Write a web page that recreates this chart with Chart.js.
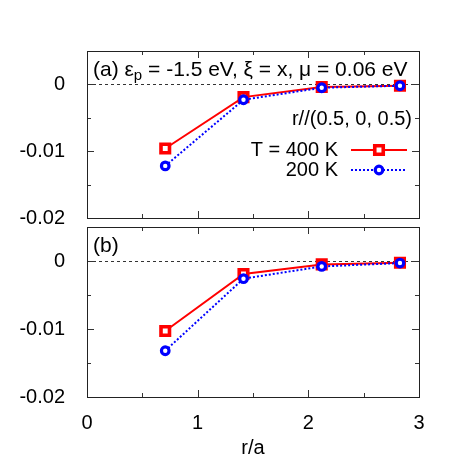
<!DOCTYPE html>
<html>
<head>
<meta charset="utf-8">
<script src="https://cdn.jsdelivr.net/npm/chart.js@4"></script>
<style>
  html, body { margin: 0; padding: 0; background: #fff; }
  #wrap { position: relative; width: 463px; height: 460px; }
  canvas { position: absolute; left: 0; top: 0; }
</style>
</head>
<body>
<div id="wrap">
  <canvas id="panelA" width="463" height="460"></canvas>
  <canvas id="panelB" width="463" height="460"></canvas>
</div>
<script>
// r/a along (0.5, 0, 0.5)
const rOverA = [0.707, 1.414, 2.121, 2.828];

// panel (a)
const a400 = [-0.0096, -0.0019, -0.0004, -0.0002];
const a200 = [-0.0122, -0.0023, -0.0005, -0.0002];

// panel (b)
const b400 = [-0.0103, -0.0019, -0.0005, -0.00025];
const b200 = [-0.0132, -0.0026, -0.0008, -0.0003];

const yTicks = [-0.02, -0.01, 0];
const xTicks = [0, 1, 2, 3];
const legendLabels = ['T = 400 K', '200 K'];

const FONT = '"Liberation Sans", Arial, sans-serif';
const FS = 20;
const RED = '#ff0000';
const BLUE = '#0000ff';

function pts(ys) {
    return rOverA.map((x, i) => ({ x: x, y: ys[i] }));
}

function makeDatasets(hi, lo) {
    return [{
        label: legendLabels[0],
        data: pts(hi),
        borderColor: RED,
        borderWidth: 2,
        pointStyle: 'rect',
        pointRadius: 6,
        pointBorderWidth: 3.6,
        pointBorderColor: RED,
        pointBackgroundColor: '#fff',
        tension: 0
    }, {
        label: legendLabels[1],
        data: pts(lo),
        borderColor: BLUE,
        borderWidth: 2,
        borderDash: [2, 2],
        pointStyle: 'circle',
        pointRadius: 3.8,
        pointBorderWidth: 3.2,
        pointBorderColor: BLUE,
        pointBackgroundColor: '#fff',
        tension: 0
    }].reverse();
}

// frame, inward ticks and the zero line
const framePlugin = {
    id: 'frame',
    beforeDatasetsDraw(chart) {
        const { ctx, chartArea: a, scales: { x, y } } = chart;
        ctx.save();
        // dashed zero line
        ctx.strokeStyle = '#333';
        ctx.lineWidth = 1;
        ctx.setLineDash([3, 3]);
        const y0 = Math.round(y.getPixelForValue(0)) + 0.5;
        ctx.beginPath();
        ctx.moveTo(a.left, y0);
        ctx.lineTo(a.right, y0);
        ctx.stroke();
        ctx.setLineDash([]);

        ctx.strokeStyle = '#333';
        for (let v = -0.02; v <= 0.0051; v += 0.005) {
            const major = Math.abs(v / 0.01 - Math.round(v / 0.01)) < 1e-6;
            const len = major ? 7 : 4;
            const py = Math.round(y.getPixelForValue(v)) + 0.5;
            ctx.beginPath();
            ctx.moveTo(a.left, py); ctx.lineTo(a.left + len, py);
            ctx.moveTo(a.right, py); ctx.lineTo(a.right - len, py);
            ctx.stroke();
        }
        for (let v = 0.5; v < 3; v += 0.5) {
            const major = Math.abs(v - Math.round(v)) < 1e-6;
            const len = major ? 7 : 4;
            const px = Math.round(x.getPixelForValue(v)) + 0.5;
            ctx.beginPath();
            ctx.moveTo(px, a.top); ctx.lineTo(px, a.top + len);
            ctx.moveTo(px, a.bottom); ctx.lineTo(px, a.bottom - len);
            ctx.stroke();
        }
        ctx.restore();
    },
    afterDraw(chart) {
        const { ctx, chartArea: a } = chart;
        ctx.save();
        ctx.strokeStyle = '#222';
        ctx.lineWidth = 1;
        ctx.strokeRect(a.left + 0.5, a.top + 0.5, a.right - a.left, a.bottom - a.top);
        ctx.restore();
    }
};

// panel labels and the legend
const labelPlugin = {
    id: 'labels',
    afterDraw(chart, args, opts) {
        const { ctx } = chart;
        ctx.save();
        ctx.fillStyle = '#000';
        ctx.textBaseline = 'middle';
        let x = 93;
        const y = opts.titleY;
        for (const part of opts.title) {
            ctx.font = (part.sub ? '15px ' : '21px ') + FONT;
            ctx.fillText(part.t, x, part.sub ? y + 6 : y);
            x += ctx.measureText(part.t).width;
        }
        if (opts.legend) {
            ctx.font = FS + 'px ' + FONT;
            ctx.textAlign = 'right';
            ctx.fillText('r//(0.5, 0, 0.5)', 412, 119);
            const rows = [150, 170];
            chart.data.datasets.slice().reverse().forEach((ds, i) => {
                const ly = rows[i];
                ctx.fillStyle = '#000';
                ctx.fillText(ds.label, 338, ly);
                ctx.strokeStyle = ds.borderColor;
                ctx.lineWidth = 2;
                ctx.setLineDash(ds.borderDash || []);
                ctx.beginPath();
                ctx.moveTo(351, ly); ctx.lineTo(407, ly);
                ctx.stroke();
                ctx.setLineDash([]);
                ctx.lineWidth = ds.pointBorderWidth;
                ctx.fillStyle = '#fff';
                ctx.beginPath();
                if (ds.pointStyle === 'rect') {
                    const s = ds.pointRadius * Math.SQRT1_2;
                    ctx.rect(379 - s, ly - s, 2 * s, 2 * s);
                } else {
                    ctx.arc(379, ly, ds.pointRadius, 0, Math.PI * 2);
                }
                ctx.fill();
                ctx.stroke();
            });
        }
        ctx.restore();
    }
};

function yScale() {
    return {
        min: -0.02,
        max: 0.005,
        grid: { display: false },
        border: { display: false },
        afterBuildTicks: s => { s.ticks = yTicks.map(v => ({ value: v })); },
        afterFit: s => { s.width = 87; },
        ticks: {
            padding: 14,
            color: '#000',
            font: { family: FONT, size: FS },
            callback: v => (v === 0 ? '0' : v.toFixed(2))
        }
    };
}

new Chart(document.getElementById('panelA'), {
    type: 'line',
    data: { datasets: makeDatasets(a400, a200) },
    options: {
        responsive: false,
        animation: false,
        layout: { padding: { top: 51, bottom: 242, right: 44, left: 0 } },
        plugins: {
            legend: { display: false },
            tooltip: { enabled: false },
            labels: {
                titleY: 70,
                legend: true,
                title: [{ t: '(a) ε' }, { t: 'p', sub: true }, { t: ' = -1.5 eV, ξ = x, μ = 0.06 eV' }]
            }
        },
        scales: {
            x: { type: 'linear', min: 0, max: 3, display: false },
            y: yScale()
        }
    },
    plugins: [framePlugin, labelPlugin]
});

new Chart(document.getElementById('panelB'), {
    type: 'line',
    data: { datasets: makeDatasets(b400, b200) },
    options: {
        responsive: false,
        animation: false,
        layout: { padding: { top: 227, bottom: 0, right: 44, left: 0 } },
        plugins: {
            legend: { display: false },
            tooltip: { enabled: false },
            labels: { titleY: 246, legend: false, title: [{ t: '(b)' }] }
        },
        scales: {
            x: {
                type: 'linear',
                min: 0,
                max: 3,
                grid: { display: false },
                border: { display: false },
                afterBuildTicks: s => { s.ticks = xTicks.map(v => ({ value: v })); },
                afterFit: s => { s.height = 63; },
                ticks: {
                    padding: 6,
                    color: '#000',
                    maxRotation: 0,
                    font: { family: FONT, size: FS }
                },
                title: {
                    display: true,
                    text: 'r/a',
                    color: '#000',
                    padding: { top: 8, bottom: 0 },
                    font: { family: FONT, size: FS }
                }
            },
            y: yScale()
        }
    },
    plugins: [framePlugin, labelPlugin]
});
</script>
</body>
</html>
